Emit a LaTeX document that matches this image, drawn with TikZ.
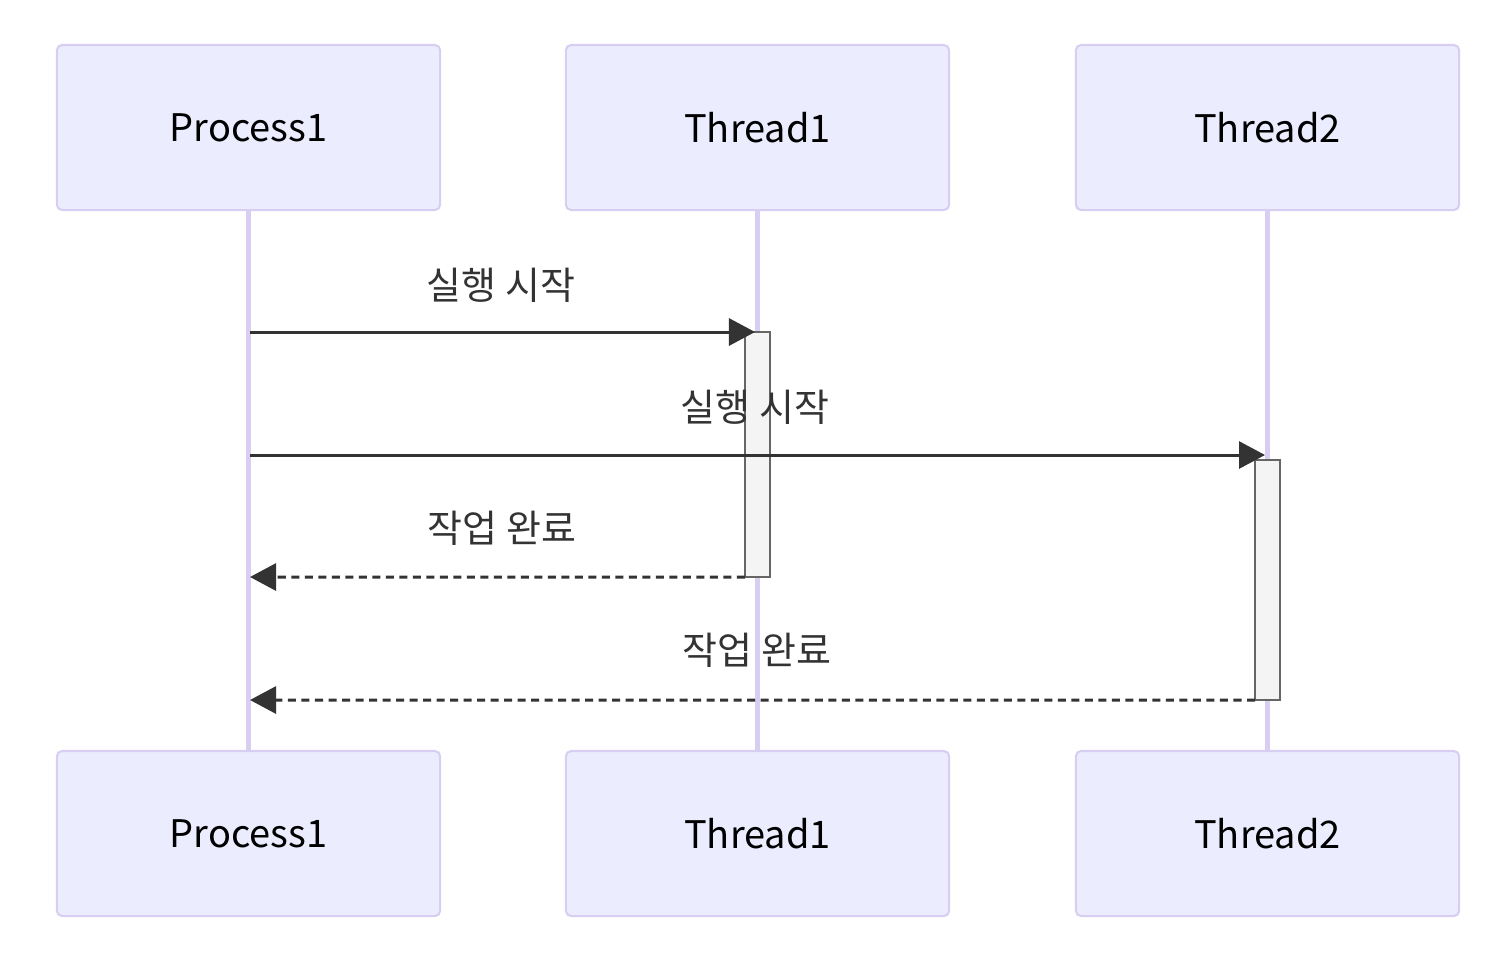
\documentclass[tikz,border=0pt]{standalone}
\usepackage{fontspec}
\setmainfont{Noto Sans CJK KR}
\usetikzlibrary{arrows.meta,positioning}
\definecolor{actorfill}{RGB}{236,236,255}
\definecolor{actorline}{RGB}{216,206,242}
\definecolor{msgdark}{RGB}{51,51,51}
\definecolor{actfill}{RGB}{244,244,244}
\definecolor{actline}{RGB}{102,102,102}
\begin{document}
\begin{tikzpicture}[x=0.01cm,y=-0.01cm,
    actor/.style={draw=actorline,fill=actorfill,line width=0.6pt,rounded corners=1.5pt,
      minimum width=3.83cm,minimum height=1.65cm,font=\fontsize{10.8}{13}\selectfont},
    lifeline/.style={actorline,line width=1.3pt},
    actbar/.style={draw=actline,fill=actfill,line width=0.6pt,minimum width=0.25cm,
      inner sep=0pt,outer sep=0pt},
    msg/.style={msgdark,line width=0.85pt,-{Triangle[length=0.26cm,width=0.27cm]}},
    reply/.style={msg,dash pattern=on 0.08cm off 0.055cm},
    msglabel/.style={font=\fontsize{10.8}{13}\selectfont,text=msgdark}]
  \useasboundingbox (0,0) rectangle (1500,960);
  \node[actor] (p1top) at (248.5,127.5) {Process1};
  \node[actor] (t1top) at (757.5,127.5) {Thread1};
  \node[actor] (t2top) at (1267.5,127.5) {Thread2};
  \node[actor] (p1bot) at (248.5,833.5) {Process1};
  \node[actor] (t1bot) at (757.5,833.5) {Thread1};
  \node[actor] (t2bot) at (1267.5,833.5) {Thread2};
  \draw[lifeline] (p1top) -- (p1bot);
  \draw[lifeline] (t1top) -- (t1bot);
  \draw[lifeline] (t2top) -- (t2bot);
  \node[actbar,minimum height=2.45cm] (act1) at (757.5,454.5) {};
  \node[actbar,minimum height=2.40cm] (act2) at (1267.5,580) {};
  \coordinate (s1) at (250,332);
  \coordinate (e1) at (755,332);
  \coordinate (s2) at (250,455);
  \coordinate (e2) at (1265,455);
  \coordinate (r1) at (250,577);
  \coordinate (r2) at (250,700);
  \draw[msg] (s1) -- (e1);
  \node[msglabel] (l1) at (501,285) {실행 시작};
  \draw[msg] (s2) -- (e2);
  \node[msglabel] (l2) at (755,407) {실행 시작};
  \draw[reply] (act1.south west) -- (r1);
  \node[msglabel] (l3) at (502,528) {작업 완료};
  \draw[reply] (act2.south west) -- (r2);
  \node[msglabel] (l4) at (757,650) {작업 완료};
\end{tikzpicture}
\end{document}
